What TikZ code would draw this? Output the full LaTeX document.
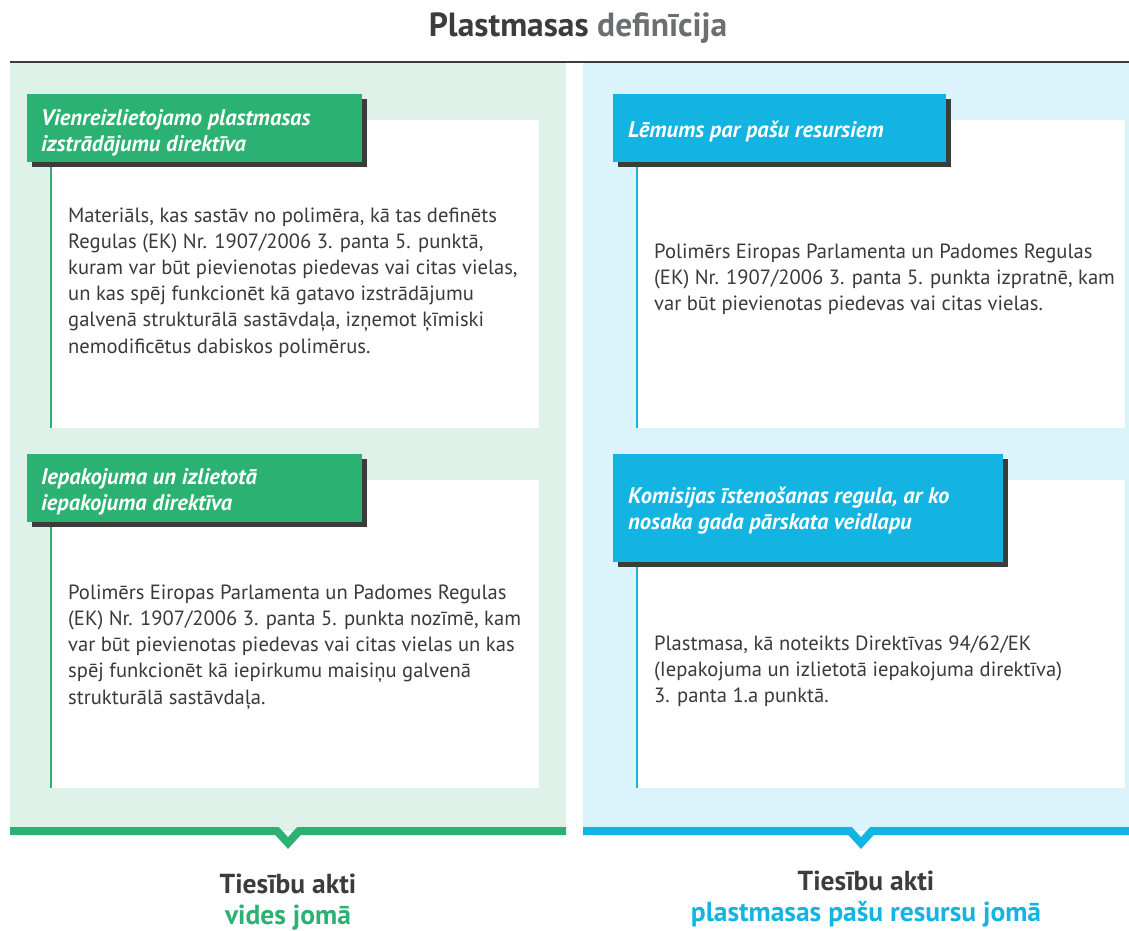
\documentclass[tikz,border=0pt]{standalone}
\usepackage{fontspec}
\setmainfont{PT Sans}
\definecolor{greenhdr}{HTML}{2BB273}
\definecolor{bluehdr}{HTML}{14B4E2}
\definecolor{greenbg}{HTML}{DFF2E9}
\definecolor{bluebg}{HTML}{DBF3FA}
\definecolor{darkc}{HTML}{3C3C3C}
\definecolor{textc}{HTML}{3A3A3A}
\definecolor{titlegrey}{HTML}{6D6E71}
\tikzset{
  bodytext/.style={anchor=base west, inner sep=0, align=left, text=textc,
    font=\fontsize{20.6}{26.2}\selectfont},
  hdrtext/.style={anchor=base west, inner sep=0, align=left, text=white,
    font=\bfseries\itshape\fontsize{22.5}{26}\selectfont},
  foottext/.style={anchor=base, inner sep=0, align=center,
    font=\bfseries\fontsize{27.5}{31}\selectfont},
  shadowbox/.style={fill=darkc},
  whitebox/.style={fill=white},
}
\begin{document}
\begin{tikzpicture}[x=1pt,y=-1pt]
\useasboundingbox (0,0) rectangle (1129,931);
\fill[white] (0,0) rectangle (1129,931);
% title
\node[anchor=base, inner sep=0, font=\bfseries\fontsize{33.5}{36}\selectfont] (title) at (578,36.5)
  {\textcolor{darkc}{Plastmasas} \textcolor{titlegrey}{definīcija}};
\draw[darkc, line width=2.5] (10,62) -- (1129,62);
% panels
\fill[greenbg] (10,63.5) rectangle (566,831);
\fill[bluebg] (583,63.5) rectangle (1129,831);
% bottom chevron bars
\draw[greenhdr, line width=8, miter limit=10] (10,831) -- (277,831) -- (288,843) -- (299,831) -- (566,831);
\draw[bluehdr, line width=8, miter limit=10] (583,831) -- (850,831) -- (861,843) -- (872,831) -- (1129,831);
% white boxes
\fill[whitebox] (50,120) rectangle (539,428);
\fill[whitebox] (50,480) rectangle (539,788);
\fill[whitebox] (636,120) rectangle (1125,428);
\fill[whitebox] (636,480) rectangle (1125,788);
% vertical accent lines
\draw[greenhdr, line width=2.3] (51,162) -- (51,428);
\draw[greenhdr, line width=2.3] (51,522) -- (51,788);
\draw[bluehdr, line width=2.3] (637,162) -- (637,428);
\draw[bluehdr, line width=2.3] (637,562) -- (637,788);
% header shadows and headers
\fill[shadowbox] (32,99) rectangle (367,167);
\fill[greenhdr] (27,94) rectangle (362,162);
\fill[shadowbox] (32,459) rectangle (367,527);
\fill[greenhdr] (27,454) rectangle (362,522);
\fill[shadowbox] (618,99) rectangle (951,167);
\fill[bluehdr] (613,94) rectangle (946,162);
\fill[shadowbox] (618,459) rectangle (1008,567);
\fill[bluehdr] (613,454) rectangle (1003,562);
% header texts (anchor = baseline of last line)
\node[hdrtext] (h1) at (41,151) {Vienreizlietojamo plastmasas\\izstrādājumu direktīva};
\node[hdrtext] (h2) at (41,510) {Iepakojuma un izlietotā\\iepakojuma direktīva};
\node[hdrtext] (h3) at (628,137.5) {Lēmums par pašu resursiem};
\node[hdrtext] (h4) at (628,529) {Komisijas īstenošanas regula, ar ko\\nosaka gada pārskata veidlapu};
% body texts (anchor = baseline of last line)
\node[bodytext] (b1) at (68,353) {Materiāls, kas sastāv no polimēra, kā tas definēts\\
Regulas (EK) Nr. 1907/2006 3. panta 5. punktā,\\
kuram var būt pievienotas piedevas vai citas vielas,\\
un kas spēj funkcionēt kā gatavo izstrādājumu\\
galvenā strukturālā sastāvdaļa, izņemot ķīmiski\\
nemodificētus dabiskos polimērus.};
\node[bodytext] (b2) at (68,704) {Polimērs Eiropas Parlamenta un Padomes Regulas\\
(EK) Nr. 1907/2006 3. panta 5. punkta nozīmē, kam\\
var būt pievienotas piedevas vai citas vielas un kas\\
spēj funkcionēt kā iepirkumu maisiņu galvenā\\
strukturālā sastāvdaļa.};
\node[bodytext] (b3) at (654,310.5) {Polimērs Eiropas Parlamenta un Padomes Regulas\\
(EK) Nr. 1907/2006 3. panta 5. punkta izpratnē, kam\\
var būt pievienotas piedevas vai citas vielas.};
\node[bodytext] (b4) at (654,702.5) {Plastmasa, kā noteikts Direktīvas 94/62/EK\\
(Iepakojuma un izlietotā iepakojuma direktīva)\\
3. panta 1.a punktā.};
% footer labels (anchor = baseline of last line)
\node[foottext] (f1) at (288,924.5) {\textcolor{darkc}{Tiesību akti}\\\textcolor{greenhdr}{vides jomā}};
\node[foottext] (f2) at (866,921.5) {\textcolor{darkc}{Tiesību akti}\\\textcolor{bluehdr}{plastmasas pašu resursu jomā}};
\end{tikzpicture}
\end{document}
